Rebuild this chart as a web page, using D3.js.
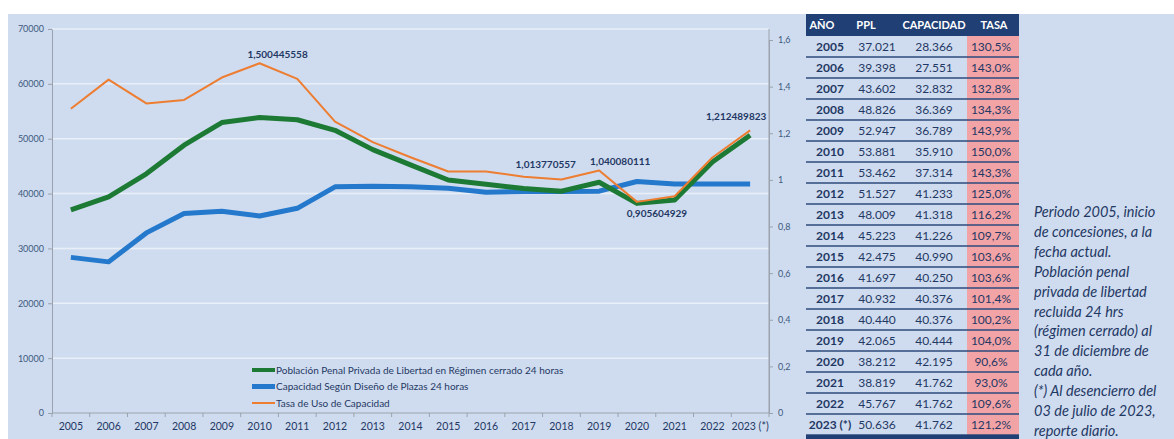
<!DOCTYPE html>
<html>
<head>
<meta charset="utf-8">
<style>
  body { margin: 0; background: #fff; }
  svg { display: block; font-family: Lato, "Open Sans", sans-serif; }
</style>
</head>
<body>
<svg width="1174" height="439"></svg>
<script src="https://d3js.org/d3.v7.min.js"></script>
<script>
  var years = ["2005", "2006", "2007", "2008", "2009", "2010", "2011", "2012", "2013", "2014",
               "2015", "2016", "2017", "2018", "2019", "2020", "2021", "2022", "2023 (*)"];
  var ppl = [37021, 39398, 43602, 48826, 52947, 53881, 53462, 51527, 48009, 45223,
             42475, 41697, 40932, 40440, 42065, 38212, 38819, 45767, 50636];
  var capacidad = [28366, 27551, 32832, 36369, 36789, 35910, 37314, 41233, 41318, 41226,
                   40990, 40250, 40376, 40376, 40444, 42195, 41762, 41762, 41762];
  var tasa = [1.305, 1.430, 1.328, 1.343, 1.439, 1.500445558, 1.433, 1.250, 1.162, 1.097,
              1.036, 1.036, 1.013770557, 1.002, 1.040080111, 0.905604929, 0.930, 1.096, 1.212489823];
  var labelYears = ["2010", "2017", "2019", "2020", "2023 (*)"];
  var leftTicks = [0, 10000, 20000, 30000, 40000, 50000, 60000, 70000];
  var rightTicks = [0, 0.2, 0.4, 0.6, 0.8, 1, 1.2, 1.4, 1.6];
  var seriesNames = ["Población Penal Privada de Libertad en Régimen cerrado 24 horas",
                     "Capacidad Según Diseño de Plazas 24 horas",
                     "Tasa de Uso de Capacidad"];
  var tableHeader = ["AÑO", "PPL", "CAPACIDAD", "TASA"];
  var noteLines = ["Periodo 2005, inicio", "de concesiones, a la", "fecha actual.",
                   "Población penal", "privada de libertad", "recluida 24 hrs",
                   "(régimen cerrado) al", "31 de diciembre de", "cada año.",
                   "(*) Al desencierro del", "03 de julio de 2023,", "reporte diario."];

  var navy = "#1f3864";
  var es = d3.formatLocale({decimal: ",", thousands: ".", grouping: [3], currency: ["", ""]});

  var svg = d3.select("svg");

  // fondo celeste
  svg.append("rect").attr("x", 8).attr("y", 14).attr("width", 1166).attr("height", 425)
      .attr("fill", "#cfdcef");

  var plot = {left: 52, right: 769, top: 29, bottom: 413};

  var x = d3.scaleBand().domain(years).range([plot.left, plot.right]).paddingInner(0).paddingOuter(0);
  var cx = function(d) { return x(d) + x.bandwidth() / 2; };
  var y = d3.scaleLinear().domain([0, 70000]).range([plot.bottom, plot.top]);
  var y2 = d3.scaleLinear().domain([0, 1.6]).range([plot.bottom, 40]);

  // grid
  svg.append("g").selectAll("line").data(leftTicks.slice(1)).join("line")
      .attr("x1", plot.left).attr("x2", plot.right)
      .attr("y1", function(d) { return y(d); }).attr("y2", function(d) { return y(d); })
      .attr("stroke", "#e9eff8").attr("stroke-width", 1.5);

  var axisStyle = function(g, color) {
    g.select(".domain").attr("stroke", "#9aa3ad");
    g.selectAll(".tick line").attr("stroke", "#9aa3ad");
    g.selectAll("text").attr("fill", color);
  };

  svg.append("g")
      .attr("transform", "translate(" + plot.left + ",0)")
      .call(d3.axisLeft(y).tickValues(leftTicks).tickFormat(d3.format("d")).tickSize(4).tickSizeOuter(0).tickPadding(4))
      .attr("font-size", 9).attr("font-family", null)
      .call(axisStyle, "#3d5a80");

  svg.append("g")
      .attr("transform", "translate(" + plot.right + ",0)")
      .call(d3.axisRight(y2).tickValues(rightTicks).tickFormat(es.format("~g")).tickSize(4).tickSizeOuter(0).tickPadding(5))
      .attr("font-size", 9).attr("font-family", null)
      .call(axisStyle, "#3d5a80");

  // extender eje derecho hasta arriba
  svg.append("line").attr("x1", plot.right).attr("x2", plot.right)
      .attr("y1", plot.top).attr("y2", plot.bottom).attr("stroke", "#9aa3ad");

  var xg = svg.append("g")
      .attr("transform", "translate(0," + plot.bottom + ")")
      .call(d3.axisBottom(x).tickSize(0).tickPadding(10))
      .attr("font-size", 10.5).attr("font-family", null)
      .call(axisStyle, navy);
  xg.select(".domain").attr("d", "M" + plot.left + ",0H" + plot.right);
  xg.selectAll(".edge").data(years.concat(["end"])).join("line")
      .attr("class", "edge")
      .attr("x1", function(d) { return d === "end" ? plot.right : x(d); })
      .attr("x2", function(d) { return d === "end" ? plot.right : x(d); })
      .attr("y1", 0).attr("y2", 4).attr("stroke", "#9aa3ad");

  // lineas
  var line = d3.line().x(function(d) { return cx(d.year); }).y(function(d) { return d.y; });

  var pplPts = years.map(function(d, i) { return {year: d, y: y(ppl[i])}; });
  var capPts = years.map(function(d, i) { return {year: d, y: y(capacidad[i])}; });
  var tasaPts = years.map(function(d, i) { return {year: d, y: y2(tasa[i])}; });

  var colors = ["#1c7a35", "#2479cc", "#ed7d31"];
  var widths = [5, 5, 2];

  [capPts, pplPts, tasaPts].forEach(function(pts, k) {
    var idx = [1, 0, 2][k];
    svg.append("path").datum(pts)
        .attr("fill", "none")
        .attr("stroke", colors[idx])
        .attr("stroke-width", widths[idx])
        .attr("stroke-linejoin", "round")
        .attr("d", line);
  });

  // etiquetas de datos
  var labelOffset = {"2010": [18, -9], "2017": [22, -12], "2019": [21, -9], "2020": [20, 12], "2023 (*)": [-14, -14]};
  svg.append("g").selectAll("text").data(labelYears).join("text")
      .attr("x", function(d) { return cx(d) + labelOffset[d][0]; })
      .attr("y", function(d) { return y2(tasa[years.indexOf(d)]) + labelOffset[d][1]; })
      .attr("dy", "0.35em")
      .attr("text-anchor", "middle")
      .attr("font-size", 10).attr("font-weight", "bold")
      .attr("fill", navy)
      .text(function(d) { return es.format(".9f")(tasa[years.indexOf(d)]); });

  // leyenda
  var leg = svg.append("g").selectAll("g").data(seriesNames).join("g")
      .attr("transform", function(d, i) { return "translate(252," + (370 + i * 16.5) + ")"; });
  leg.append("line").attr("x1", 0).attr("x2", 23).attr("y1", 0).attr("y2", 0)
      .attr("stroke", function(d, i) { return colors[i]; })
      .attr("stroke-width", function(d, i) { return [4, 5, 2][i]; });
  leg.append("text").attr("x", 24).attr("dy", "0.35em")
      .attr("font-size", 10).attr("fill", navy)
      .text(function(d) { return d; });

  // tabla
  var tab = {left: 806, right: 1019, top: 14, head: 22, row: 21};
  var colX = [830, 877, 934, 991];
  var headX = [822, 866, 934, 994];
  var pink = {left: 967};

  svg.append("rect").attr("x", tab.left).attr("y", tab.top).attr("width", tab.right - tab.left).attr("height", tab.head)
      .attr("fill", "#1f3f75");
  svg.append("g").selectAll("text").data(tableHeader).join("text")
      .attr("x", function(d, i) { return headX[i]; })
      .attr("y", tab.top + tab.head / 2).attr("dy", "0.35em")
      .attr("text-anchor", "middle").attr("font-size", 11).attr("font-weight", "bold")
      .attr("fill", "#fff")
      .text(function(d) { return d; });

  var bodyTop = tab.top + tab.head;
  svg.append("rect").attr("x", pink.left).attr("y", bodyTop)
      .attr("width", tab.right - pink.left).attr("height", years.length * tab.row)
      .attr("fill", "#f2a3a6");

  var rows = svg.append("g").selectAll("g").data(years).join("g")
      .attr("transform", function(d, i) { return "translate(0," + (bodyTop + i * tab.row) + ")"; });
  rows.append("line").attr("x1", tab.left).attr("x2", tab.right)
      .attr("y1", tab.row).attr("y2", tab.row)
      .attr("stroke", "#2c4b7d").attr("stroke-width", 1.5);
  var cells = function(d, i) {
    return [d, es.format(",d")(ppl[i]), es.format(",d")(capacidad[i]), es.format(".1%")(tasa[i])];
  };
  rows.selectAll("text").data(function(d) { var i = years.indexOf(d); return cells(d, i); }).join("text")
      .attr("x", function(d, j) { return colX[j]; })
      .attr("y", tab.row / 2).attr("dy", "0.35em")
      .attr("text-anchor", "middle")
      .attr("font-size", 12)
      .attr("font-weight", function(d, j) { return j === 0 ? "bold" : "normal"; })
      .attr("fill", navy)
      .text(function(d) { return d; });

  svg.append("rect").attr("x", tab.left).attr("y", bodyTop + years.length * tab.row)
      .attr("width", tab.right - tab.left).attr("height", 6).attr("fill", "#1f3f75");

  // nota
  svg.append("g").selectAll("text").data(noteLines).join("text")
      .attr("x", 1034)
      .attr("y", function(d, i) { return 212 + i * 19.9; })
      .attr("dy", "0.35em")
      .attr("font-size", 14.5).attr("font-style", "italic")
      .attr("fill", navy)
      .text(function(d) { return d; });
</script>
</body>
</html>
